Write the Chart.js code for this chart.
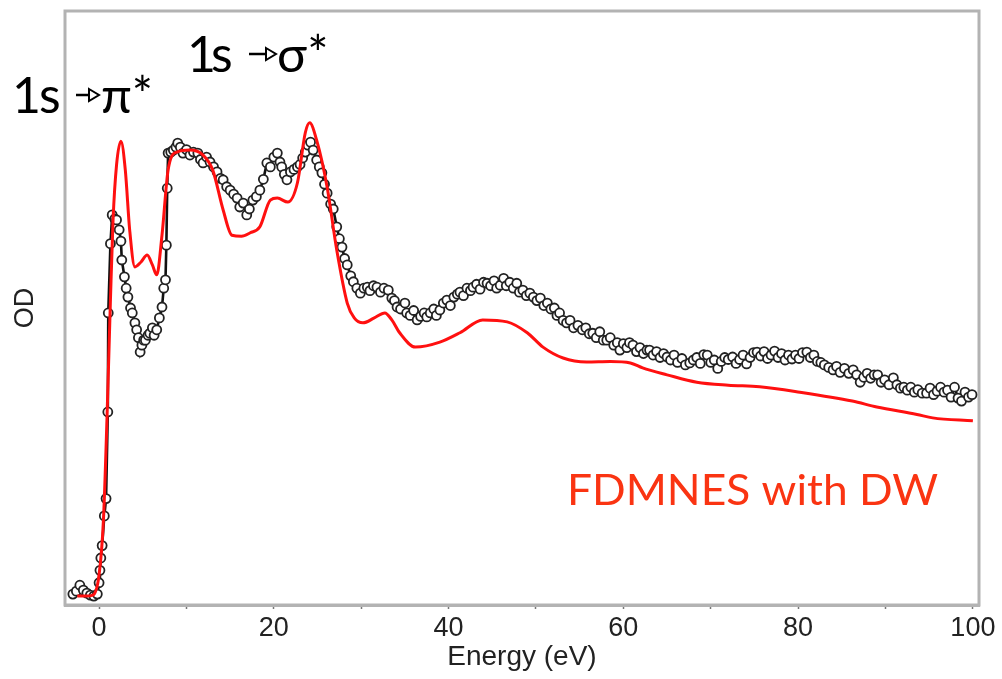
<!DOCTYPE html>
<html>
<head>
<meta charset="utf-8">
<script src="https://cdn.jsdelivr.net/npm/chart.js@4.4.1/dist/chart.umd.min.js"></script>
<style>
  html, body { margin: 0; padding: 0; background: #fff; }
  #wrap { width: 1002px; height: 679px; }
</style>
</head>
<body>
<div id="wrap"><canvas id="xanes" width="1002" height="679"></canvas></div>
<script>
// Energy axis tick labels (every 20 eV, minor every 10)
var tickLabels = ['0', '20', '40', '60', '80', '100'];

// FDMNES calculation (red line)
var calcE = [-2.5, -1.5, -0.7, 0.0, 0.5, 0.9, 1.3, 1.6, 2.0, 2.5, 3.0, 3.5, 4.1, 4.8, 5.5, 6.1, 6.6, 7.2, 7.9, 8.9,
  10.4, 11.9, 13.0, 14.2, 15.2, 16.3, 17.3, 18.4, 19.6, 20.4, 21.6, 22.7, 23.6, 24.1, 24.9, 26.1, 27.2, 28.4, 29.2, 30.2,
  31.5, 32.7, 33.5, 34.4, 36.2, 39.0, 41.3, 43.9, 46.7, 49.0, 50.8, 53.1, 55.8, 58.5, 60.8, 62.2, 65.0, 68.4, 72.0, 75.6,
  80.2, 86.2, 89.0, 93.6, 95.4, 100.0];
var calcOD = [0.018, 0.018, 0.020, 0.061, 0.172, 0.374, 0.616, 0.778, 0.889, 0.937, 0.879, 0.758, 0.683, 0.693, 0.707, 0.687, 0.667, 0.747, 0.879, 0.915,
  0.919, 0.909, 0.879, 0.798, 0.747, 0.745, 0.752, 0.764, 0.818, 0.822, 0.814, 0.853, 0.954, 0.974, 0.939, 0.844, 0.717, 0.610, 0.580, 0.570,
  0.580, 0.590, 0.576, 0.550, 0.521, 0.531, 0.550, 0.576, 0.572, 0.550, 0.521, 0.499, 0.491, 0.492, 0.489, 0.479, 0.465, 0.450, 0.444, 0.441,
  0.430, 0.412, 0.400, 0.385, 0.378, 0.372];

// measured spectrum (black open circles)
var expE = [-3.0, -2.6, -2.2, -1.8, -1.4, -1.0, -0.6, -0.2, 0.0, 0.1, 0.2, 0.35, 0.6, 0.8, 1.0, 1.05, 1.3, 1.5, 1.8, 2.0,
  2.3, 2.5, 2.6, 2.9, 3.1, 3.3, 3.6, 3.8, 4.1, 4.3, 4.5, 4.7, 4.9, 5.1, 5.3, 5.6, 5.8, 6.1, 6.3, 6.6,
  6.9, 7.2, 7.4, 7.6, 7.7, 7.8, 7.9, 8.2, 8.5, 8.8, 9.0, 9.3, 9.6, 10.0, 10.4, 10.8, 11.3, 11.6, 11.9, 12.3,
  12.7, 13.1, 13.5, 13.9, 14.2, 14.6, 15.0, 15.4, 15.8, 16.1, 16.5, 16.9, 17.2, 17.6, 18.0, 18.4, 18.8, 19.2, 19.6, 20.0,
  20.4, 20.7, 20.9, 21.2, 21.5, 21.9, 22.3, 22.7, 23.0, 23.3, 23.6, 23.9, 24.2, 24.5, 24.9, 25.2, 25.5, 25.8, 26.1, 26.5,
  26.8, 27.2, 27.5, 27.8, 28.1, 28.4, 28.8, 29.1, 29.5, 29.9, 30.3, 30.7, 31.0, 31.4, 31.8, 32.2, 32.6, 33.1, 33.5, 33.8,
  34.1, 34.5, 35.0, 35.2, 35.6, 36.0, 36.4, 36.8, 37.2, 37.5, 37.9, 38.3, 38.6, 39.0, 39.4, 39.8, 40.2, 40.6, 41.0, 41.3,
  41.7, 42.1, 42.5, 42.8, 43.2, 43.6, 44.0, 44.4, 44.8, 45.2, 45.5, 45.9, 46.3, 46.6, 47.0, 47.4, 47.8, 48.1, 48.5, 48.9,
  49.3, 49.7, 50.1, 50.5, 50.9, 51.3, 51.7, 52.1, 52.4, 52.7, 53.1, 53.5, 53.9, 54.3, 54.8, 55.3, 55.7, 56.1, 56.5, 56.9,
  57.3, 57.7, 58.1, 58.5, 58.9, 59.3, 59.6, 60.0, 60.4, 60.7, 61.1, 61.5, 61.9, 62.3, 62.7, 63.0, 63.4, 63.8, 64.2, 64.6,
  65.0, 65.4, 65.8, 66.2, 66.7, 67.1, 67.6, 68.0, 68.4, 68.8, 69.2, 69.6, 70.0, 70.4, 70.8, 71.2, 71.6, 72.0, 72.5, 72.9,
  73.3, 73.7, 74.1, 74.5, 74.9, 75.3, 75.7, 76.1, 76.5, 76.9, 77.3, 77.7, 78.1, 78.5, 78.9, 79.3, 79.7, 80.1, 80.5, 81.0,
  81.4, 81.8, 82.2, 82.6, 83.0, 83.5, 84.0, 84.4, 84.8, 85.3, 85.8, 86.3, 86.7, 87.1, 87.5, 87.9, 88.3, 88.7, 89.1, 89.5,
  89.9, 90.4, 90.9, 91.3, 91.7, 92.1, 92.5, 92.9, 93.3, 93.7, 94.2, 94.7, 95.1, 95.5, 95.9, 96.3, 96.7, 97.1, 97.5, 97.9,
  98.3, 98.7, 99.1, 99.5, 99.9];
var expOD = [0.022, 0.028, 0.040, 0.030, 0.024, 0.020, 0.018, 0.022, 0.045, 0.070, 0.095, 0.120, 0.180, 0.215, 0.390, 0.590, 0.730, 0.788, 0.780, 0.778,
  0.758, 0.735, 0.697, 0.663, 0.640, 0.622, 0.600, 0.590, 0.570, 0.556, 0.540, 0.511, 0.525, 0.535, 0.535, 0.545, 0.549, 0.560, 0.545, 0.556,
  0.580, 0.602, 0.640, 0.657, 0.727, 0.842, 0.913, 0.915, 0.919, 0.925, 0.933, 0.925, 0.913, 0.920, 0.909, 0.915, 0.913, 0.900, 0.893, 0.905,
  0.895, 0.885, 0.875, 0.862, 0.859, 0.845, 0.838, 0.830, 0.822, 0.804, 0.812, 0.788, 0.800, 0.818, 0.825, 0.838, 0.860, 0.893, 0.885, 0.905,
  0.913, 0.895, 0.885, 0.870, 0.859, 0.875, 0.880, 0.885, 0.890, 0.903, 0.915, 0.929, 0.935, 0.919, 0.899, 0.885, 0.873, 0.850, 0.832, 0.810,
  0.800, 0.764, 0.740, 0.723, 0.700, 0.687, 0.665, 0.653, 0.640, 0.630, 0.640, 0.642, 0.635, 0.645, 0.642, 0.632, 0.640, 0.636, 0.620, 0.615,
  0.602, 0.598, 0.610, 0.590, 0.585, 0.595, 0.576, 0.583, 0.590, 0.582, 0.590, 0.598, 0.585, 0.596, 0.610, 0.616, 0.605, 0.622, 0.628, 0.632,
  0.625, 0.640, 0.635, 0.642, 0.648, 0.638, 0.652, 0.650, 0.645, 0.655, 0.640, 0.646, 0.660, 0.645, 0.652, 0.640, 0.650, 0.632, 0.636, 0.625,
  0.630, 0.622, 0.615, 0.620, 0.605, 0.610, 0.598, 0.600, 0.585, 0.590, 0.575, 0.570, 0.575, 0.560, 0.565, 0.556, 0.560, 0.548, 0.549, 0.540,
  0.552, 0.535, 0.535, 0.540, 0.525, 0.530, 0.515, 0.528, 0.520, 0.530, 0.525, 0.512, 0.520, 0.508, 0.515, 0.515, 0.505, 0.512, 0.500, 0.508,
  0.501, 0.495, 0.505, 0.490, 0.498, 0.485, 0.489, 0.495, 0.500, 0.488, 0.506, 0.505, 0.490, 0.495, 0.478, 0.492, 0.500, 0.496, 0.501, 0.488,
  0.496, 0.505, 0.487, 0.500, 0.510, 0.511, 0.503, 0.512, 0.498, 0.505, 0.513, 0.500, 0.508, 0.495, 0.505, 0.497, 0.505, 0.498, 0.510, 0.511,
  0.500, 0.505, 0.492, 0.490, 0.485, 0.480, 0.475, 0.482, 0.470, 0.478, 0.468, 0.475, 0.465, 0.450, 0.460, 0.468, 0.458, 0.465, 0.465, 0.450,
  0.455, 0.445, 0.459, 0.445, 0.438, 0.440, 0.434, 0.440, 0.430, 0.435, 0.428, 0.428, 0.438, 0.425, 0.432, 0.440, 0.430, 0.434, 0.420, 0.440,
  0.418, 0.412, 0.430, 0.420, 0.425];

function toPoints(xs, ys) {
  return xs.map(function(x, i) { return { x: x, y: ys[i] }; });
}

// open-headed arrow like the one in the slide text
function smallArrow(c, x0, x1, y) {
  c.save();
  c.strokeStyle = '#000';
  c.lineWidth = 2.5;
  c.beginPath();
  c.moveTo(x0, y);
  c.lineTo(x1 - 9, y);
  c.stroke();
  c.lineWidth = 2;
  c.beginPath();
  c.moveTo(x1 - 10, y - 6);
  c.lineTo(x1, y);
  c.lineTo(x1 - 10, y + 6);
  c.closePath();
  c.stroke();
  c.restore();
}

// frame box + annotation text
var decorPlugin = {
  id: 'decor',
  beforeDatasetsDraw: function(chart) {
    var a = chart.chartArea, c = chart.ctx;
    c.save();
    c.strokeStyle = '#b3b3b3';
    c.lineWidth = 3;
    c.strokeRect(a.left, a.top, a.right - a.left, a.bottom - a.top);
    c.restore();
  },
  afterDraw: function(chart) {
    var c = chart.ctx;
    c.save();
    // y axis title
    c.fillStyle = '#222';
    c.font = '27px "Liberation Sans", Arial, sans-serif';
    c.textAlign = 'center';
    c.textBaseline = 'middle';
    c.translate(26, 308);
    c.rotate(-Math.PI / 2);
    c.fillText('OD', 0, 0);
    c.restore();

    c.save();
    c.fillStyle = '#000';
    c.textBaseline = 'alphabetic';
    c.textAlign = 'left';
    c.font = '50px Lato, "Open Sans", sans-serif';
    // 1s -> pi*
    c.fillText('1', 12, 113);
    c.fillText('s', 39, 113);
    c.fillText('\u03c0*', 101, 113);
    // 1s -> sigma*
    c.fillText('1', 187, 72);
    c.fillText('s', 211, 72);
    c.fillText('\u03c3*', 277, 72);
    c.restore();
    smallArrow(c, 76, 99, 95);
    smallArrow(c, 249, 276, 54);

    c.save();
    c.fillStyle = '#fa3412';
    c.textAlign = 'left';
    c.textBaseline = 'alphabetic';
    c.font = '42px Lato, "Open Sans", sans-serif';
    var label = 'FDMNES with DW';
    var w = c.measureText(label).width;
    c.translate(567, 505);
    c.scale(371 / w, 1);
    c.fillText(label, 0, 0);
    c.restore();
  }
};

var ctx = document.getElementById('xanes').getContext('2d');
new Chart(ctx, {
  type: 'scatter',
  data: {
    datasets: [{
      label: 'FDMNES with DW',
      data: toPoints(calcE, calcOD),
      showLine: true,
      borderColor: '#ff1010',
      borderWidth: 3,
      pointRadius: 0,
      cubicInterpolationMode: 'monotone'
    }, {
      label: 'Experiment',
      data: toPoints(expE, expOD),
      showLine: true,
      borderColor: '#111',
      borderWidth: 2.6,
      tension: 0,
      pointRadius: 4.5,
      pointBorderWidth: 1.8,
      pointBorderColor: '#222',
      pointBackgroundColor: '#fff'
    }]
  },
  options: {
    responsive: false,
    devicePixelRatio: 1,
    animation: false,
    layout: { padding: { left: 65, right: 23, top: 11, bottom: 0 } },
    plugins: {
      legend: { display: false },
      tooltip: { enabled: false }
    },
    scales: {
      x: {
        type: 'linear',
        min: -3.9,
        max: 100.7,
        afterFit: function(axis) { axis.height = 74; },
        border: { display: true, color: '#b3b3b3', width: 3 },
        grid: { drawOnChartArea: false, drawTicks: true, tickLength: 4, tickWidth: 1.5, color: '#777' },
        ticks: {
          stepSize: 10,
          includeBounds: false,
          autoSkip: false,
          maxRotation: 0,
          padding: 3,
          color: '#222',
          font: { family: '"Liberation Sans", Arial, sans-serif', size: 27 },
          callback: function(v) {
            var s = String(v);
            return tickLabels.indexOf(s) >= 0 ? s : '';
          }
        },
        title: {
          display: true,
          text: 'Energy (eV)',
          color: '#222',
          font: { family: '"Liberation Sans", Arial, sans-serif', size: 28 },
          padding: { top: 0, bottom: 5 }
        }
      },
      y: {
        display: false,
        min: 0,
        max: 1.2
      }
    }
  },
  plugins: [decorPlugin]
});
</script>
</body>
</html>
